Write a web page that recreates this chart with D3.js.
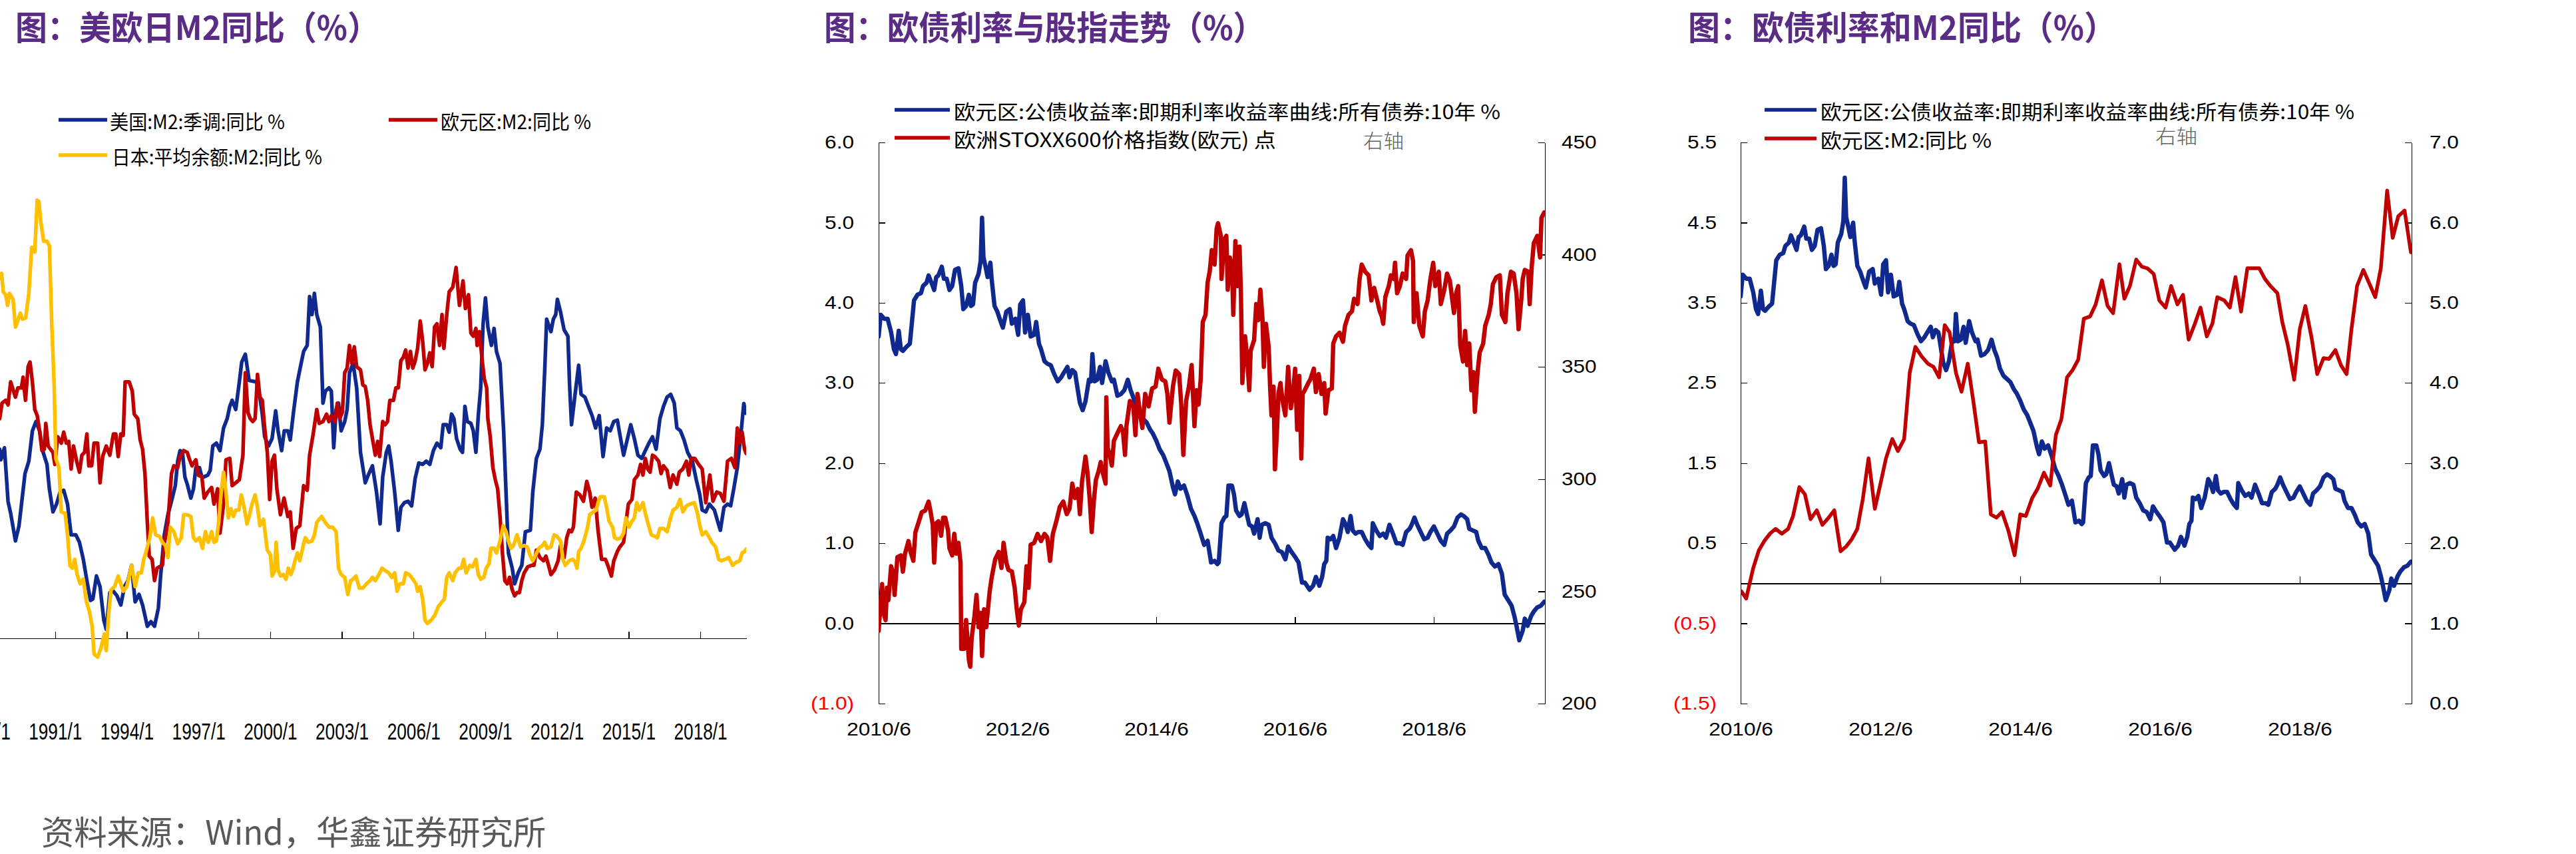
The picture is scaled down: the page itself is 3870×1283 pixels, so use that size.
<!DOCTYPE html>
<html>
<head>
<meta charset="utf-8">
<style>
  body { margin: 0; background: #fff; }
  svg { display: block; background: #fff; }
  text { font-family: "Liberation Sans", Arial, sans-serif; }
  .title { font-family: "Noto Sans CJK SC", sans-serif; font-weight: 700; font-size: 50px; fill: #5b2c86; }
  .legend { font-family: "Noto Sans CJK SC", sans-serif; font-size: 30px; fill: #000; }
  .note { font-family: "Noto Sans CJK SC", sans-serif; font-size: 29px; font-weight: 300; fill: #606060; }
  .source { font-family: "Noto Sans CJK SC", sans-serif; font-size: 50px; fill: #595959; }
  .axis path, .axis line { stroke: #000; stroke-width: 1.3px; shape-rendering: crispEdges; }
  .zero path, .zero line { stroke: #000; stroke-width: 1.6px; }
  .zero3 path { stroke-width: 2.4px; }
  .series { fill: none; stroke-linejoin: round; stroke-linecap: round; }
</style>
</head>
<body>
<script src="https://d3js.org/d3.v7.min.js"></script>
<script>

// ---------- panel 1: M2 yoy (%), [decimal year, value] ----------
var usM2 = [[1988.68,5.34],[1988.73,5.04],[1988.88,5.38],[1989.03,3.87],[1989.14,3.53],[1989.34,2.75],[1989.49,3.18],[1989.74,4.65],[1989.90,5.00],[1990.05,5.86],[1990.20,6.12],[1990.35,5.86],[1990.50,5.25],[1990.66,4.91],[1990.76,4.22],[1990.91,3.57],[1991.06,3.79],[1991.21,4.13],[1991.36,4.18],[1991.52,3.79],[1991.67,2.92],[1991.87,2.92],[1992.02,2.71],[1992.18,2.23],[1992.33,1.63],[1992.48,1.07],[1992.58,1.11],[1992.73,1.76],[1992.88,1.46],[1993.04,0.51],[1993.14,0.25],[1993.29,1.29],[1993.44,1.33],[1993.59,1.20],[1993.75,0.94],[1993.90,1.46],[1994.05,1.63],[1994.20,2.06],[1994.35,1.03],[1994.51,1.24],[1994.66,0.94],[1994.86,0.34],[1995.01,0.47],[1995.16,0.34],[1995.32,0.85],[1995.42,1.80],[1995.57,2.92],[1995.72,3.49],[1995.87,3.87],[1996.03,4.31],[1996.13,5.00],[1996.23,5.30],[1996.33,5.25],[1996.43,4.56],[1996.53,4.35],[1996.68,3.96],[1996.79,4.22],[1996.89,4.82],[1997.04,4.82],[1997.14,4.56],[1997.24,4.56],[1997.39,4.61],[1997.49,4.74],[1997.60,5.43],[1997.75,5.51],[1997.90,5.30],[1998.05,5.94],[1998.20,6.20],[1998.31,6.55],[1998.41,6.72],[1998.56,6.46],[1998.71,7.24],[1998.81,7.80],[1998.96,8.02],[1999.12,7.28],[1999.42,7.24],[1999.57,6.81],[1999.67,6.33],[1999.77,5.69],[1999.93,5.43],[2000.08,5.64],[2000.23,6.42],[2000.33,5.86],[2000.48,5.30],[2000.59,5.86],[2000.74,5.86],[2000.84,5.60],[2000.99,6.46],[2001.14,7.24],[2001.24,7.58],[2001.40,8.10],[2001.55,8.27],[2001.65,9.65],[2001.75,9.14],[2001.85,9.74],[2001.95,9.14],[2002.10,8.79],[2002.21,6.64],[2002.31,6.98],[2002.46,7.07],[2002.56,6.98],[2002.66,5.38],[2002.76,6.46],[2002.86,6.64],[2002.97,5.86],[2003.12,6.12],[2003.22,6.46],[2003.32,7.50],[2003.47,7.76],[2003.62,7.07],[2003.78,5.25],[2003.98,4.39],[2004.13,4.65],[2004.28,4.87],[2004.45,4.13],[2004.60,3.23],[2004.71,4.56],[2004.86,5.25],[2004.96,5.43],[2005.06,5.00],[2005.21,4.13],[2005.36,3.05],[2005.47,3.70],[2005.62,3.83],[2005.77,3.87],[2005.92,3.74],[2006.07,4.52],[2006.22,4.95],[2006.38,4.91],[2006.53,5.00],[2006.68,4.91],[2006.83,5.30],[2006.98,5.51],[2007.14,5.38],[2007.24,6.03],[2007.39,6.03],[2007.49,5.82],[2007.59,6.33],[2007.69,6.20],[2007.80,5.64],[2007.95,5.34],[2008.05,5.25],[2008.15,6.55],[2008.25,6.12],[2008.40,6.07],[2008.50,5.86],[2008.61,5.25],[2008.71,6.29],[2008.81,7.07],[2008.91,8.88],[2009.01,9.61],[2009.11,8.79],[2009.26,8.27],[2009.37,8.75],[2009.47,8.10],[2009.62,7.76],[2009.77,5.86],[2009.87,4.13],[2009.97,2.41],[2010.13,1.98],[2010.23,1.54],[2010.38,1.85],[2010.53,2.06],[2010.68,3.01],[2010.89,3.05],[2010.99,4.13],[2011.14,5.08],[2011.29,5.34],[2011.39,6.03],[2011.49,7.58],[2011.57,9.01],[2011.75,8.66],[2011.85,9.01],[2011.95,9.14],[2012.02,9.57],[2012.15,9.22],[2012.30,8.71],[2012.46,8.53],[2012.53,7.15],[2012.61,6.03],[2012.76,6.89],[2012.91,7.71],[2013.01,6.89],[2013.17,6.81],[2013.32,6.55],[2013.47,6.29],[2013.62,5.94],[2013.77,6.29],[2013.93,5.13],[2014.08,5.94],[2014.23,5.86],[2014.38,6.12],[2014.53,6.16],[2014.63,5.77],[2014.79,5.17],[2014.94,5.60],[2015.09,6.03],[2015.24,5.64],[2015.39,5.17],[2015.55,5.08],[2015.70,5.30],[2015.85,5.51],[2016.00,5.69],[2016.15,5.34],[2016.31,6.20],[2016.46,6.55],[2016.61,6.81],[2016.76,6.89],[2016.91,6.64],[2017.02,5.94],[2017.17,5.86],[2017.32,5.60],[2017.47,5.25],[2017.67,5.00],[2017.83,4.48],[2017.98,4.05],[2018.08,3.62],[2018.23,3.57],[2018.38,3.79],[2018.59,3.62],[2018.74,3.27],[2018.84,3.05],[2018.99,3.70],[2019.14,3.79],[2019.27,3.74],[2019.40,4.22],[2019.55,4.82],[2019.70,5.77],[2019.82,6.63],[2019.92,6.35]];

var ezM2Long = [[1988.68,6.20],[1988.78,6.64],[1988.93,6.72],[1989.03,6.59],[1989.14,7.24],[1989.24,7.02],[1989.34,6.81],[1989.44,7.07],[1989.59,7.07],[1989.66,7.37],[1989.76,6.72],[1989.87,7.67],[1989.95,7.80],[1990.05,7.24],[1990.15,6.46],[1990.25,6.29],[1990.35,5.86],[1990.45,5.30],[1990.55,5.34],[1990.61,6.07],[1990.71,5.43],[1990.81,5.34],[1990.91,5.25],[1990.99,4.91],[1991.11,5.69],[1991.26,5.51],[1991.36,5.82],[1991.47,5.51],[1991.57,5.56],[1991.67,4.78],[1991.77,5.43],[1991.92,4.95],[1992.02,4.69],[1992.12,5.17],[1992.23,5.25],[1992.33,5.77],[1992.41,4.87],[1992.53,4.87],[1992.63,5.51],[1992.78,5.51],[1992.88,4.39],[1992.99,5.13],[1993.14,5.43],[1993.29,5.17],[1993.44,5.77],[1993.54,5.77],[1993.64,5.13],[1993.75,5.77],[1993.85,5.73],[1993.93,7.24],[1994.10,7.24],[1994.23,6.98],[1994.31,6.33],[1994.46,6.20],[1994.56,5.60],[1994.66,5.34],[1994.76,4.65],[1994.86,3.27],[1994.94,2.32],[1995.06,2.23],[1995.16,1.63],[1995.27,1.98],[1995.37,2.02],[1995.49,2.06],[1995.57,2.67],[1995.72,3.27],[1995.87,4.65],[1995.97,4.87],[1996.13,4.82],[1996.23,5.13],[1996.38,5.30],[1996.53,5.25],[1996.63,5.04],[1996.73,4.87],[1996.89,5.04],[1996.99,4.61],[1997.14,4.56],[1997.24,3.96],[1997.39,4.13],[1997.55,4.26],[1997.65,3.79],[1997.80,4.22],[1997.90,2.97],[1998.05,3.79],[1998.15,5.04],[1998.31,5.08],[1998.41,4.31],[1998.56,4.39],[1998.71,4.48],[1998.86,5.17],[1998.96,7.50],[1999.07,6.38],[1999.17,6.20],[1999.27,6.12],[1999.37,6.20],[1999.47,7.45],[1999.57,6.81],[1999.67,6.72],[1999.77,5.94],[1999.88,5.25],[1999.98,3.92],[2000.08,5.00],[2000.18,5.17],[2000.28,4.22],[2000.43,3.49],[2000.58,3.96],[2000.74,3.44],[2000.84,3.57],[2000.96,2.54],[2001.09,3.10],[2001.24,3.18],[2001.40,4.31],[2001.55,4.18],[2001.65,5.17],[2001.80,5.77],[2001.95,6.46],[2002.05,6.07],[2002.21,6.12],[2002.36,6.33],[2002.46,6.12],[2002.56,6.29],[2002.71,6.12],[2002.81,6.64],[2002.91,6.20],[2003.02,6.38],[2003.12,7.50],[2003.22,7.63],[2003.32,8.27],[2003.42,7.76],[2003.52,8.23],[2003.62,7.67],[2003.78,7.58],[2003.88,7.15],[2003.98,7.11],[2004.08,6.72],[2004.18,6.03],[2004.40,5.17],[2004.50,5.56],[2004.58,5.13],[2004.71,6.12],[2004.81,6.03],[2004.91,6.12],[2005.01,6.72],[2005.16,6.72],[2005.26,7.07],[2005.36,7.07],[2005.47,7.84],[2005.57,7.93],[2005.67,8.14],[2005.77,7.63],[2005.87,8.10],[2005.97,7.63],[2006.07,7.84],[2006.17,8.19],[2006.28,8.96],[2006.38,8.40],[2006.48,7.58],[2006.58,7.76],[2006.68,8.06],[2006.78,7.67],[2006.88,8.79],[2006.98,8.88],[2007.09,8.27],[2007.19,9.14],[2007.27,8.19],[2007.39,9.14],[2007.49,9.78],[2007.64,9.91],[2007.78,10.47],[2007.92,9.40],[2008.07,10.09],[2008.17,9.31],[2008.30,9.70],[2008.40,8.62],[2008.50,8.53],[2008.61,8.75],[2008.66,8.27],[2008.76,8.66],[2008.86,7.93],[2008.96,7.33],[2009.06,7.07],[2009.11,6.20],[2009.21,5.69],[2009.32,4.82],[2009.42,4.48],[2009.52,4.22],[2009.62,3.44],[2009.72,2.41],[2009.82,1.63],[2009.92,1.54],[2010.02,1.72],[2010.13,1.37],[2010.23,1.20],[2010.33,1.29],[2010.43,1.29],[2010.53,1.63],[2010.63,1.85],[2010.78,2.02],[2010.94,2.06],[2011.04,2.06],[2011.14,2.49],[2011.29,2.28],[2011.44,2.19],[2011.54,2.32],[2011.65,2.06],[2011.75,1.80],[2011.90,1.93],[2012.05,2.19],[2012.15,2.62],[2012.30,2.28],[2012.41,2.84],[2012.51,3.05],[2012.61,3.01],[2012.69,3.14],[2012.81,4.13],[2012.96,4.05],[2013.11,3.87],[2013.25,4.43],[2013.37,4.13],[2013.47,3.70],[2013.60,3.96],[2013.72,3.05],[2013.87,2.23],[2014.03,2.23],[2014.13,2.06],[2014.28,1.76],[2014.38,2.19],[2014.53,2.45],[2014.63,2.58],[2014.79,2.71],[2014.89,3.27],[2014.99,3.79],[2015.14,3.92],[2015.24,4.48],[2015.39,4.61],[2015.50,4.91],[2015.60,4.61],[2015.70,5.08],[2015.80,4.78],[2015.90,4.69],[2016.00,5.17],[2016.10,5.13],[2016.26,5.00],[2016.36,4.65],[2016.46,4.87],[2016.61,4.74],[2016.74,4.26],[2016.86,4.61],[2017.02,4.35],[2017.12,4.69],[2017.27,4.78],[2017.42,5.00],[2017.52,4.61],[2017.62,5.08],[2017.77,5.08],[2017.93,4.91],[2018.08,4.78],[2018.23,3.83],[2018.40,4.61],[2018.53,3.87],[2018.69,4.13],[2018.84,4.09],[2018.99,3.87],[2019.14,5.00],[2019.30,5.08],[2019.45,4.82],[2019.55,5.94],[2019.65,5.51],[2019.75,5.82],[2019.85,5.34],[2019.92,5.22]];

var jpM2 = [[1988.68,10.17],[1988.76,10.30],[1988.83,9.78],[1988.93,9.70],[1989.01,9.40],[1989.09,9.74],[1989.24,9.57],[1989.34,8.79],[1989.44,8.96],[1989.54,9.18],[1989.64,9.01],[1989.77,9.05],[1989.90,9.74],[1990.02,11.04],[1990.15,10.91],[1990.25,12.37],[1990.32,12.33],[1990.40,11.77],[1990.52,11.21],[1990.66,11.21],[1990.76,11.08],[1990.86,8.88],[1990.96,7.15],[1991.03,5.08],[1991.16,4.82],[1991.26,3.57],[1991.42,3.53],[1991.52,2.92],[1991.62,2.06],[1991.72,1.98],[1991.82,2.23],[1991.92,1.80],[1992.05,1.54],[1992.18,1.67],[1992.31,1.03],[1992.43,0.77],[1992.55,0.34],[1992.63,-0.44],[1992.78,-0.53],[1992.92,-0.27],[1993.06,0.12],[1993.14,-0.35],[1993.24,0.68],[1993.34,1.37],[1993.49,1.46],[1993.64,1.76],[1993.75,1.54],[1993.85,1.33],[1994.00,1.46],[1994.20,2.06],[1994.35,1.46],[1994.48,1.85],[1994.61,1.85],[1994.71,2.23],[1994.81,2.45],[1994.96,2.84],[1995.08,3.40],[1995.21,2.92],[1995.37,2.88],[1995.49,2.71],[1995.62,2.62],[1995.72,2.28],[1995.82,3.14],[1995.97,3.01],[1996.13,2.67],[1996.28,2.84],[1996.38,3.49],[1996.53,3.49],[1996.68,3.44],[1996.79,2.84],[1996.89,2.75],[1997.04,2.84],[1997.17,2.54],[1997.29,3.01],[1997.41,2.71],[1997.55,3.01],[1997.65,2.71],[1997.75,2.75],[1997.85,3.31],[1997.95,4.13],[1998.05,4.69],[1998.15,4.13],[1998.25,3.40],[1998.36,3.66],[1998.46,3.44],[1998.56,3.62],[1998.69,3.62],[1998.79,4.05],[1998.91,3.70],[1999.03,3.23],[1999.12,3.44],[1999.24,3.79],[1999.37,4.05],[1999.47,3.70],[1999.57,3.18],[1999.72,3.36],[1999.88,2.49],[2000.01,2.36],[2000.08,1.76],[2000.18,1.89],[2000.25,2.71],[2000.33,1.93],[2000.43,1.76],[2000.55,1.80],[2000.66,1.67],[2000.76,1.98],[2000.87,1.80],[2000.96,1.98],[2001.04,2.19],[2001.14,2.41],[2001.24,2.19],[2001.40,2.67],[2001.47,2.84],[2001.60,2.71],[2001.75,2.75],[2001.85,2.92],[2001.95,3.27],[2002.05,3.36],[2002.15,3.44],[2002.31,3.27],[2002.46,3.14],[2002.61,3.14],[2002.76,3.01],[2002.86,1.98],[2002.97,1.80],[2003.12,1.72],[2003.25,1.24],[2003.37,1.63],[2003.47,1.67],[2003.59,1.76],[2003.73,1.42],[2003.88,1.42],[2004.03,1.54],[2004.18,1.63],[2004.28,1.72],[2004.40,1.63],[2004.55,1.80],[2004.68,1.98],[2004.86,1.89],[2004.96,1.85],[2005.09,1.72],[2005.21,1.85],[2005.31,1.33],[2005.43,1.54],[2005.57,1.54],[2005.67,1.85],[2005.82,1.80],[2005.97,1.67],[2006.10,1.54],[2006.17,1.33],[2006.28,1.46],[2006.38,1.11],[2006.48,0.51],[2006.58,0.42],[2006.73,0.51],[2006.88,0.64],[2007.04,0.90],[2007.19,1.03],[2007.29,1.11],[2007.39,1.72],[2007.49,1.85],[2007.64,1.63],[2007.74,1.85],[2007.90,1.98],[2008.00,1.98],[2008.10,2.23],[2008.20,1.85],[2008.35,2.06],[2008.47,2.02],[2008.61,2.23],[2008.71,1.80],[2008.81,1.67],[2008.94,1.72],[2009.04,1.98],[2009.16,2.11],[2009.24,2.54],[2009.37,2.54],[2009.47,2.41],[2009.62,2.75],[2009.75,3.18],[2009.87,3.01],[2009.97,2.75],[2010.08,2.54],[2010.18,2.62],[2010.33,2.92],[2010.48,2.58],[2010.63,2.62],[2010.76,2.58],[2010.89,2.32],[2010.99,2.19],[2011.09,2.32],[2011.24,2.54],[2011.39,2.62],[2011.49,2.71],[2011.59,2.54],[2011.75,2.58],[2011.88,2.92],[2012.00,2.88],[2012.15,2.75],[2012.25,2.23],[2012.35,2.06],[2012.51,2.19],[2012.66,2.23],[2012.76,2.15],[2012.84,1.98],[2012.91,2.45],[2013.01,2.54],[2013.13,2.75],[2013.27,3.10],[2013.37,3.49],[2013.52,3.57],[2013.64,3.62],[2013.74,3.87],[2013.82,4.00],[2013.98,4.00],[2014.08,3.70],[2014.18,3.31],[2014.33,3.14],[2014.41,2.84],[2014.53,2.80],[2014.68,2.84],[2014.79,2.97],[2014.89,3.40],[2015.02,3.14],[2015.14,3.31],[2015.24,3.40],[2015.34,3.83],[2015.45,3.62],[2015.60,3.83],[2015.70,3.53],[2015.80,3.27],[2015.95,2.92],[2016.10,2.88],[2016.20,2.84],[2016.31,3.10],[2016.46,3.10],[2016.61,3.01],[2016.74,3.36],[2016.86,3.62],[2017.02,3.70],[2017.15,3.92],[2017.27,3.57],[2017.42,3.74],[2017.57,3.79],[2017.75,3.83],[2017.88,3.53],[2017.98,3.18],[2018.08,2.92],[2018.23,3.01],[2018.38,2.84],[2018.48,2.71],[2018.64,2.58],[2018.77,2.23],[2018.89,2.19],[2019.04,2.23],[2019.19,2.28],[2019.35,2.06],[2019.50,2.15],[2019.65,2.19],[2019.75,2.41],[2019.85,2.45],[2019.92,2.52]];

var p1TickYears = [1988, 1991, 1994, 1997, 2000, 2003, 2006, 2009, 2012, 2015, 2018];
var p1TickLabels = ["1988/1", "1991/1", "1994/1", "1997/1", "2000/1", "2003/1", "2006/1", "2009/1", "2012/1", "2015/1", "2018/1"];

// ---------- panels 2 & 3: euro area 10y yield (%), STOXX 600, euro M2 yoy ----------
var ez10y = [[2010.42,3.58],[2010.45,3.85],[2010.50,3.80],[2010.55,3.80],[2010.60,3.63],[2010.64,3.42],[2010.67,3.36],[2010.71,3.65],[2010.74,3.42],[2010.77,3.40],[2010.82,3.45],[2010.87,3.49],[2010.90,3.76],[2010.93,4.03],[2010.98,4.10],[2011.03,4.12],[2011.06,4.21],[2011.11,4.25],[2011.14,4.34],[2011.19,4.23],[2011.22,4.16],[2011.25,4.32],[2011.28,4.34],[2011.33,4.45],[2011.36,4.30],[2011.40,4.30],[2011.44,4.16],[2011.48,4.21],[2011.52,4.41],[2011.57,4.43],[2011.61,4.21],[2011.64,3.92],[2011.68,3.96],[2011.72,4.10],[2011.75,3.96],[2011.78,3.98],[2011.81,4.25],[2011.86,4.36],[2011.89,4.52],[2011.91,5.06],[2011.93,4.57],[2011.96,4.45],[2011.99,4.32],[2012.03,4.50],[2012.05,4.28],[2012.09,3.96],[2012.13,3.89],[2012.18,3.76],[2012.21,3.69],[2012.26,3.89],[2012.31,3.92],[2012.34,3.74],[2012.39,3.80],[2012.43,3.60],[2012.46,3.98],[2012.50,4.03],[2012.53,3.63],[2012.57,3.85],[2012.61,3.58],[2012.66,3.60],[2012.69,3.76],[2012.73,3.49],[2012.76,3.42],[2012.81,3.27],[2012.85,3.24],[2012.90,3.22],[2012.95,3.11],[2013.00,3.02],[2013.05,3.07],[2013.09,3.13],[2013.14,3.20],[2013.17,3.07],[2013.21,3.16],[2013.25,3.13],[2013.29,2.91],[2013.32,2.75],[2013.36,2.66],[2013.40,2.77],[2013.45,3.04],[2013.48,3.02],[2013.50,3.36],[2013.53,3.02],[2013.57,3.04],[2013.61,3.20],[2013.64,3.00],[2013.69,3.27],[2013.73,3.13],[2013.78,3.02],[2013.81,3.04],[2013.86,2.84],[2013.91,2.86],[2013.96,2.91],[2014.01,3.04],[2014.05,2.91],[2014.09,2.82],[2014.13,2.68],[2014.18,2.59],[2014.23,2.55],[2014.28,2.51],[2014.33,2.42],[2014.37,2.37],[2014.42,2.28],[2014.47,2.17],[2014.52,2.10],[2014.57,1.99],[2014.61,1.90],[2014.66,1.70],[2014.69,1.61],[2014.73,1.77],[2014.77,1.68],[2014.82,1.72],[2014.87,1.59],[2014.92,1.43],[2014.97,1.34],[2015.01,1.25],[2015.06,1.12],[2015.11,0.98],[2015.16,1.03],[2015.21,0.76],[2015.26,0.78],[2015.30,0.74],[2015.32,0.76],[2015.36,1.25],[2015.40,1.32],[2015.43,1.34],[2015.46,1.72],[2015.51,1.72],[2015.54,1.61],[2015.57,1.41],[2015.62,1.34],[2015.65,1.36],[2015.69,1.50],[2015.73,1.34],[2015.76,1.23],[2015.80,1.21],[2015.83,1.12],[2015.88,1.30],[2015.91,1.07],[2015.94,1.23],[2015.99,1.25],[2016.04,1.23],[2016.08,1.07],[2016.13,1.00],[2016.18,0.91],[2016.23,0.89],[2016.28,0.80],[2016.32,0.96],[2016.37,0.89],[2016.42,0.83],[2016.47,0.76],[2016.52,0.51],[2016.56,0.51],[2016.63,0.42],[2016.68,0.47],[2016.72,0.58],[2016.77,0.47],[2016.81,0.58],[2016.84,0.74],[2016.87,0.78],[2016.89,1.07],[2016.93,1.05],[2016.97,1.09],[2017.01,0.94],[2017.06,1.07],[2017.11,1.30],[2017.14,1.25],[2017.18,1.14],[2017.22,1.34],[2017.25,1.16],[2017.29,1.12],[2017.33,1.14],[2017.38,1.14],[2017.43,1.05],[2017.48,0.98],[2017.52,0.94],[2017.54,1.25],[2017.59,1.16],[2017.64,1.09],[2017.69,1.12],[2017.73,1.07],[2017.78,1.23],[2017.83,1.12],[2017.88,1.00],[2017.93,1.00],[2017.97,0.98],[2018.02,1.14],[2018.07,1.18],[2018.10,1.23],[2018.14,1.32],[2018.18,1.23],[2018.23,1.14],[2018.28,1.05],[2018.33,1.07],[2018.37,1.14],[2018.42,1.21],[2018.47,1.12],[2018.52,1.03],[2018.57,0.98],[2018.61,1.12],[2018.66,1.16],[2018.71,1.21],[2018.76,1.32],[2018.81,1.36],[2018.85,1.34],[2018.90,1.30],[2018.93,1.18],[2018.98,1.16],[2019.03,1.14],[2019.06,1.03],[2019.11,0.94],[2019.16,0.94],[2019.21,0.85],[2019.25,0.76],[2019.30,0.71],[2019.35,0.74],[2019.40,0.62],[2019.44,0.36],[2019.49,0.29],[2019.54,0.22],[2019.58,0.09],[2019.61,-0.03],[2019.65,-0.21],[2019.70,-0.09],[2019.73,0.06],[2019.77,-0.03],[2019.82,0.09],[2019.86,0.15],[2019.91,0.20],[2019.96,0.22],[2020.01,0.27]];

var stoxx600 = [[2010.42,232.4],[2010.45,245.2],[2010.47,253.2],[2010.49,240.4],[2010.52,237.2],[2010.54,251.6],[2010.56,246.0],[2010.60,261.2],[2010.63,258.0],[2010.65,248.4],[2010.69,265.2],[2010.74,266.0],[2010.77,258.8],[2010.80,266.8],[2010.85,272.4],[2010.88,267.6],[2010.92,263.6],[2010.95,276.4],[2011.00,281.2],[2011.04,285.2],[2011.09,286.0],[2011.14,290.0],[2011.17,285.2],[2011.20,279.6],[2011.22,262.8],[2011.25,280.4],[2011.28,281.2],[2011.32,274.8],[2011.35,282.8],[2011.38,282.8],[2011.42,277.2],[2011.44,269.2],[2011.48,266.0],[2011.51,275.6],[2011.54,266.8],[2011.57,271.6],[2011.60,262.8],[2011.61,224.4],[2011.65,224.4],[2011.68,237.2],[2011.72,219.6],[2011.74,216.4],[2011.76,229.2],[2011.80,238.8],[2011.83,248.4],[2011.86,234.0],[2011.89,240.4],[2011.91,221.2],[2011.94,242.0],[2011.97,234.0],[2012.02,250.0],[2012.05,256.4],[2012.10,264.4],[2012.15,267.6],[2012.19,260.4],[2012.22,271.6],[2012.26,262.8],[2012.29,259.6],[2012.34,258.8],[2012.38,251.6],[2012.41,242.0],[2012.44,234.8],[2012.47,242.0],[2012.52,245.2],[2012.55,261.2],[2012.58,251.6],[2012.61,270.8],[2012.66,271.6],[2012.71,275.6],[2012.76,272.4],[2012.81,275.6],[2012.85,274.0],[2012.89,263.6],[2012.93,275.6],[2012.98,281.2],[2013.03,287.6],[2013.08,290.0],[2013.13,284.4],[2013.17,286.8],[2013.21,298.0],[2013.25,291.6],[2013.29,295.6],[2013.32,284.4],[2013.35,298.8],[2013.40,310.0],[2013.43,302.8],[2013.46,291.6],[2013.49,276.4],[2013.52,290.0],[2013.55,299.6],[2013.59,303.6],[2013.62,307.6],[2013.65,302.8],[2013.69,298.0],[2013.70,336.4],[2013.72,314.0],[2013.75,310.8],[2013.78,306.0],[2013.81,317.2],[2013.86,320.4],[2013.91,323.6],[2013.94,321.2],[2013.97,310.8],[2013.99,323.6],[2014.04,334.8],[2014.09,332.4],[2014.12,319.6],[2014.15,338.0],[2014.19,328.4],[2014.22,322.8],[2014.26,338.0],[2014.31,332.4],[2014.36,340.4],[2014.41,341.2],[2014.45,349.2],[2014.50,344.4],[2014.55,343.6],[2014.58,338.0],[2014.61,325.2],[2014.66,341.2],[2014.70,348.4],[2014.75,346.8],[2014.78,333.2],[2014.81,310.8],[2014.85,334.8],[2014.89,341.2],[2014.93,350.8],[2014.97,323.6],[2015.00,339.6],[2015.03,333.2],[2015.06,344.4],[2015.09,370.0],[2015.13,373.2],[2015.16,387.6],[2015.19,392.4],[2015.22,402.0],[2015.26,395.6],[2015.29,411.6],[2015.31,414.0],[2015.35,408.4],[2015.36,389.2],[2015.40,406.8],[2015.43,408.4],[2015.45,384.4],[2015.48,398.8],[2015.51,395.6],[2015.53,373.2],[2015.56,406.0],[2015.59,386.0],[2015.62,403.6],[2015.64,382.8],[2015.66,342.8],[2015.70,363.6],[2015.73,354.0],[2015.76,339.6],[2015.78,357.2],[2015.83,362.0],[2015.86,378.0],[2015.89,370.8],[2015.92,384.4],[2015.95,371.6],[2015.97,350.0],[2016.00,369.2],[2016.04,358.8],[2016.06,341.2],[2016.08,328.4],[2016.11,341.2],[2016.13,304.4],[2016.16,322.0],[2016.18,338.0],[2016.21,342.8],[2016.24,334.8],[2016.28,328.4],[2016.32,350.0],[2016.36,331.6],[2016.39,338.0],[2016.42,349.2],[2016.45,322.0],[2016.48,346.0],[2016.51,309.2],[2016.53,338.0],[2016.56,339.6],[2016.61,342.8],[2016.64,344.4],[2016.69,349.2],[2016.72,338.8],[2016.76,346.8],[2016.80,338.0],[2016.84,342.8],[2016.86,329.2],[2016.90,339.6],[2016.95,340.4],[2016.97,360.4],[2017.01,363.6],[2017.06,365.2],[2017.11,361.2],[2017.14,368.4],[2017.19,373.2],[2017.24,374.8],[2017.27,380.4],[2017.32,378.0],[2017.35,389.2],[2017.38,395.6],[2017.43,392.4],[2017.48,390.8],[2017.52,379.6],[2017.56,385.2],[2017.61,378.8],[2017.64,374.8],[2017.67,372.4],[2017.69,369.2],[2017.72,381.2],[2017.77,386.0],[2017.80,390.8],[2017.84,389.2],[2017.86,396.4],[2017.89,382.8],[2017.93,386.0],[2017.97,391.6],[2018.02,389.2],[2018.04,399.6],[2018.09,402.0],[2018.12,397.2],[2018.13,370.0],[2018.17,382.8],[2018.21,368.4],[2018.26,363.6],[2018.29,374.8],[2018.33,379.6],[2018.37,389.2],[2018.41,396.4],[2018.44,386.0],[2018.49,392.4],[2018.52,378.0],[2018.57,384.4],[2018.61,391.6],[2018.65,388.4],[2018.68,381.2],[2018.71,374.0],[2018.74,382.8],[2018.77,386.0],[2018.80,359.6],[2018.84,352.4],[2018.87,366.0],[2018.90,350.8],[2018.93,360.4],[2018.96,339.6],[2018.99,347.6],[2019.01,330.0],[2019.05,347.6],[2019.08,356.4],[2019.13,360.4],[2019.16,368.4],[2019.21,373.2],[2019.24,378.0],[2019.27,386.8],[2019.32,390.0],[2019.37,390.8],[2019.40,373.2],[2019.45,370.0],[2019.48,382.8],[2019.53,392.4],[2019.57,391.6],[2019.61,382.8],[2019.64,366.8],[2019.68,380.4],[2019.70,389.2],[2019.73,393.2],[2019.78,392.4],[2019.80,378.0],[2019.83,394.8],[2019.86,405.2],[2019.91,408.4],[2019.95,398.8],[2019.97,416.4],[2020.01,418.8]];

var ezM2 = [[2010.43,1.40],[2010.50,1.31],[2010.60,1.69],[2010.68,1.91],[2010.76,2.03],[2010.84,2.12],[2010.92,2.18],[2011.01,2.12],[2011.10,2.18],[2011.17,2.34],[2011.26,2.70],[2011.34,2.61],[2011.42,2.30],[2011.51,2.41],[2011.59,2.23],[2011.68,2.32],[2011.76,2.41],[2011.85,1.90],[2011.93,1.96],[2012.01,2.05],[2012.09,2.18],[2012.17,2.56],[2012.25,3.06],[2012.34,2.43],[2012.42,2.74],[2012.50,3.06],[2012.59,3.30],[2012.67,3.15],[2012.76,3.30],[2012.84,4.13],[2012.92,4.45],[2013.01,4.33],[2013.10,4.24],[2013.18,4.20],[2013.26,4.07],[2013.34,4.72],[2013.41,4.63],[2013.50,4.13],[2013.58,3.89],[2013.67,4.24],[2013.75,3.77],[2013.83,3.26],[2013.92,3.27],[2014.00,2.36],[2014.08,2.32],[2014.16,2.39],[2014.25,2.16],[2014.34,1.85],[2014.42,2.36],[2014.50,2.34],[2014.59,2.56],[2014.67,2.68],[2014.76,2.88],[2014.85,2.72],[2014.93,3.35],[2015.01,3.55],[2015.09,4.07],[2015.17,4.16],[2015.25,4.29],[2015.33,4.80],[2015.42,4.83],[2015.50,4.98],[2015.59,5.28],[2015.67,4.96],[2015.75,4.87],[2015.84,5.48],[2015.91,5.05],[2015.99,5.21],[2016.08,5.54],[2016.16,5.45],[2016.24,5.43],[2016.33,5.36],[2016.41,5.03],[2016.50,4.94],[2016.58,5.21],[2016.67,4.98],[2016.75,5.10],[2016.83,4.54],[2016.92,4.74],[2017.00,4.94],[2017.09,4.58],[2017.17,4.74],[2017.24,5.07],[2017.34,5.03],[2017.42,4.94],[2017.50,5.32],[2017.58,4.89],[2017.67,5.43],[2017.75,5.43],[2017.84,5.43],[2017.92,5.30],[2018.00,5.21],[2018.10,5.12],[2018.17,4.76],[2018.25,4.47],[2018.34,4.04],[2018.42,4.67],[2018.50,4.96],[2018.59,4.56],[2018.67,4.11],[2018.76,4.31],[2018.84,4.30],[2018.93,4.41],[2019.01,4.22],[2019.09,4.11],[2019.16,4.67],[2019.24,5.21],[2019.33,5.41],[2019.42,5.23],[2019.50,5.07],[2019.58,5.43],[2019.67,6.40],[2019.75,5.81],[2019.83,6.08],[2019.92,6.15],[2020.01,5.63]];

var p2LeftTicks = [-1, 0, 1, 2, 3, 4, 5, 6];
var p2RightTicks = [200, 250, 300, 350, 400, 450];
var p3LeftTicks = [-1.5, -0.5, 0.5, 1.5, 2.5, 3.5, 4.5, 5.5];
var p3RightTicks = [0, 1, 2, 3, 4, 5, 6, 7];
var p23TickYears = [2010.42, 2012.42, 2014.42, 2016.42, 2018.42];
var p23TickLabels = ["2010/6", "2012/6", "2014/6", "2016/6", "2018/6"];

// ---------- drawing ----------
var BLUE = "#10298e", RED = "#c00000", GOLD = "#ffc000";

var svg = d3.select("body").append("svg")
    .attr("width", 3870)
    .attr("height", 1283);
var defs = svg.append("defs");

function addClip(id, x0, y0, x1, y1) {
  defs.append("clipPath").attr("id", id)
    .append("rect").attr("x", x0).attr("y", y0).attr("width", x1 - x0).attr("height", y1 - y0);
}

// stretch tick labels horizontally around their anchor
function stretch(sel, sx) {
  sel.each(function() {
    var t = d3.select(this);
    var x = +t.attr("x") || 0;
    t.attr("x", x / sx).attr("transform", "scale(" + sx + ",1)");
  });
}

function fmtNeg(v) {
  return v < 0 ? "(" + Math.abs(v).toFixed(1) + ")" : v.toFixed(1);
}

function addTitle(x, txt, len) {
  svg.append("text").attr("class", "title")
    .attr("x", x).attr("y", 38).attr("dominant-baseline", "central")
    .attr("textLength", len).attr("lengthAdjust", "spacingAndGlyphs")
    .text(txt);
}

function addLegend(x0, x1, y, color, tx, txt, len) {
  svg.append("line").attr("x1", x0).attr("x2", x1).attr("y1", y).attr("y2", y)
    .attr("stroke", color).attr("stroke-width", 5.5);
  svg.append("text").attr("class", "legend")
    .attr("x", tx).attr("y", y + 1).attr("dominant-baseline", "central")
    .attr("textLength", len).attr("lengthAdjust", "spacingAndGlyphs")
    .text(txt);
}

// x tick labels drawn with a bottom axis (no line, no ticks)
function xLabels(x, yPos, years, labels, size, sx) {
  var g = svg.append("g")
      .attr("transform", "translate(0," + yPos + ")")
      .call(d3.axisBottom(x).tickValues(years).tickSize(0)
        .tickFormat(function(d, i) { return labels[i]; }));
  g.select(".domain").remove();
  g.selectAll("text").attr("y", 0).attr("dy", "0.36em")
    .attr("font-size", size).attr("fill", "#000");
  stretch(g.selectAll("text"), sx);
}

// ===== panel 1 =====
addTitle(23, "图：美欧日M2同比（%）", 547);

var x1 = d3.scaleLinear().domain([1987.9, 2019.92]).range([-28.5, 1121]);
var y1 = d3.scaleLinear().domain([-2, 14]).range([1065.4, 214]);
addClip("c1", 0, 150, 1121, 1100);

svg.append("g").attr("class", "axis")
    .attr("transform", "translate(0," + y1(0) + ")")
    .call(d3.axisBottom(x1).tickValues(p1TickYears).tickSize(-10).tickSizeOuter(0).tickFormat(""));

xLabels(x1, 1098, p1TickYears, p1TickLabels, 35, 0.75);

var line1 = d3.line().x(function(d) { return x1(d[0]); }).y(function(d) { return y1(d[1]); });
var g1 = svg.append("g").attr("clip-path", "url(#c1)");
[[usM2, BLUE], [ezM2Long, RED], [jpM2, GOLD]].forEach(function(s) {
  g1.append("path").datum(s[0]).attr("class", "series")
    .attr("stroke", s[1]).attr("stroke-width", 5.5).attr("d", line1);
});

addLegend(88, 161, 180, BLUE, 165, "美国:M2:季调:同比 %", 263);
addLegend(584, 657, 180, RED, 662, "欧元区:M2:同比 %", 226);
addLegend(88, 161, 233, GOLD, 168, "日本:平均余额:M2:同比 %", 316);

// ===== panel 2 =====
addTitle(1238, "图：欧债利率与股指走势（%）", 662);

var p2 = {left: 1320, right: 2321, top: 214, bottom: 1057};
var x2 = d3.scaleLinear().domain([2010.42, 2020.02]).range([p2.left, p2.right]);
var y2L = d3.scaleLinear().domain([-1, 6]).range([p2.bottom, p2.top]);
var y2R = d3.scaleLinear().domain([200, 450]).range([p2.bottom, p2.top]);
addClip("c2", p2.left, p2.top - 10, p2.right, p2.bottom);

function yAxes(p, yl, yr, lt, rt, rfmt, lpad, rpad) {
  var gl = svg.append("g").attr("class", "axis")
      .attr("transform", "translate(" + p.left + ",0)")
      .call(d3.axisLeft(yl).tickValues(lt).tickSize(-10).tickSizeOuter(0)
        .tickPadding(lpad).tickFormat(fmtNeg));
  gl.selectAll("text").attr("font-size", 27)
    .attr("fill", function(d) { return d < 0 ? "#ff0000" : "#000"; });
  stretch(gl.selectAll("text"), 1.17);

  var gr = svg.append("g").attr("class", "axis")
      .attr("transform", "translate(" + p.right + ",0)")
      .call(d3.axisRight(yr).tickValues(rt).tickSize(-10).tickSizeOuter(0)
        .tickPadding(rpad).tickFormat(rfmt));
  gr.selectAll("text").attr("font-size", 27).attr("fill", "#000");
  stretch(gr.selectAll("text"), 1.17);
}

yAxes(p2, y2L, y2R, p2LeftTicks, p2RightTicks, d3.format("d"), 37, 25);

svg.append("g").attr("class", "axis zero")
    .attr("transform", "translate(0," + y2L(0) + ")")
    .call(d3.axisBottom(x2).tickValues(p23TickYears).tickSize(-10).tickSizeOuter(0).tickFormat(""));
xLabels(x2, 1095, p23TickYears, p23TickLabels, 27, 1.17);

var g2 = svg.append("g").attr("clip-path", "url(#c2)");
g2.append("path").datum(ez10y).attr("class", "series")
  .attr("stroke", BLUE).attr("stroke-width", 6.5)
  .attr("d", d3.line().x(function(d) { return x2(d[0]); }).y(function(d) { return y2L(d[1]); }));
g2.append("path").datum(stoxx600).attr("class", "series")
  .attr("stroke", RED).attr("stroke-width", 6.5)
  .attr("d", d3.line().x(function(d) { return x2(d[0]); }).y(function(d) { return y2R(d[1]); }));

addLegend(1344, 1427, 165, BLUE, 1433, "欧元区:公债收益率:即期利率收益率曲线:所有债券:10年 %", 821);
addLegend(1344, 1427, 207, RED, 1433, "欧洲STOXX600价格指数(欧元) 点", 484);
svg.append("text").attr("class", "note").attr("x", 2048).attr("y", 210)
  .attr("dominant-baseline", "central").attr("textLength", 61).attr("lengthAdjust", "spacingAndGlyphs")
  .text("右轴");

// ===== panel 3 =====
addTitle(2536, "图：欧债利率和M2同比（%）", 643);

var p3 = {left: 2615, right: 3623, top: 214, bottom: 1057};
var x3 = d3.scaleLinear().domain([2010.42, 2020.02]).range([p3.left, p3.right]);
var y3L = d3.scaleLinear().domain([-1.5, 5.5]).range([p3.bottom, p3.top]);
var y3R = d3.scaleLinear().domain([0, 7]).range([p3.bottom, p3.top]);
addClip("c3", p3.left, p3.top - 10, p3.right, p3.bottom);

yAxes(p3, y3L, y3R, p3LeftTicks, p3RightTicks, d3.format(".1f"), 36, 27);

svg.append("g").attr("class", "axis zero zero3")
    .attr("transform", "translate(0," + y3L(0) + ")")
    .call(d3.axisBottom(x3).tickValues(p23TickYears).tickSize(-10).tickSizeOuter(0).tickFormat(""));
xLabels(x3, 1095, p23TickYears, p23TickLabels, 27, 1.17);

var g3 = svg.append("g").attr("clip-path", "url(#c3)");
g3.append("path").datum(ez10y).attr("class", "series")
  .attr("stroke", BLUE).attr("stroke-width", 6.5)
  .attr("d", d3.line().x(function(d) { return x3(d[0]); }).y(function(d) { return y3L(d[1]); }));
g3.append("path").datum(ezM2).attr("class", "series")
  .attr("stroke", RED).attr("stroke-width", 5.5)
  .attr("d", d3.line().x(function(d) { return x3(d[0]); }).y(function(d) { return y3R(d[1]); }));

addLegend(2651, 2729, 165, BLUE, 2735, "欧元区:公债收益率:即期利率收益率曲线:所有债券:10年 %", 802);
addLegend(2651, 2729, 208, RED, 2735, "欧元区:M2:同比 %", 257);
svg.append("text").attr("class", "note").attr("x", 3238).attr("y", 203)
  .attr("dominant-baseline", "central").attr("textLength", 63).attr("lengthAdjust", "spacingAndGlyphs")
  .text("右轴");

// ===== source =====
svg.append("text").attr("class", "source")
  .attr("x", 62).attr("y", 1247).attr("dominant-baseline", "central")
  .attr("textLength", 758).attr("lengthAdjust", "spacingAndGlyphs")
  .text("资料来源：Wind，华鑫证券研究所");

</script>
</body>
</html>
